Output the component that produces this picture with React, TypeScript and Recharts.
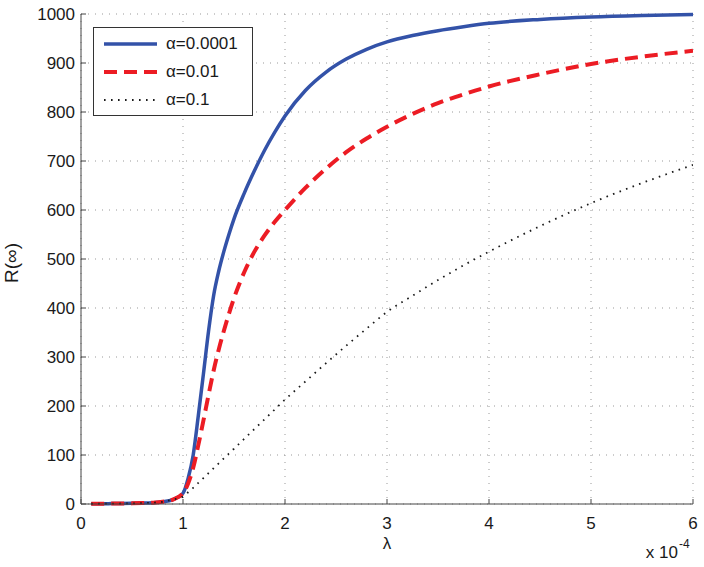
import { CartesianGrid, Label, Legend, Line, LineChart, XAxis, YAxis } from 'recharts';

const font = '"Liberation Sans", Arial, Helvetica, sans-serif';

// lambda in units of 1e-4
const lambda = [
  0.1, 0.2, 0.3, 0.4, 0.5, 0.6, 0.7, 0.8, 0.9, 1.0, 1.05, 1.1, 1.15, 1.2, 1.25, 1.3, 1.35, 1.4, 1.45, 1.5,
  1.6, 1.7, 1.8, 1.9, 2.0, 2.2, 2.4, 2.6, 2.8, 3.0, 3.25, 3.5, 3.75, 4.0, 4.5, 5.0, 5.5, 6.0,
];
const rAlpha0001 = [
  0.5, 0.6, 0.8, 1.0, 1.3, 1.8, 2.6, 4.5, 9, 22, 52, 100, 180, 265, 352, 425, 475, 515, 550, 582,
  634, 680, 722, 759, 792, 844, 881, 908, 928, 943, 956, 966, 974, 981, 989, 994, 997, 999,
];
const rAlpha001 = [
  0.5, 0.6, 0.8, 1.0, 1.3, 1.8, 2.6, 4.5, 9, 22, 42, 74, 120, 170, 222, 272, 315, 353, 388, 420,
  473, 515, 548, 576, 600, 645, 684, 718, 746, 770, 796, 818, 836, 852, 877, 898, 913, 925,
];
const rAlpha01 = [
  0.5, 0.6, 0.8, 1.0, 1.3, 1.8, 2.6, 4.5, 9, 15, 24, 33, 43, 53, 63, 73, 83, 93, 103, 113,
  133, 153, 173, 193, 213, 250, 287, 323, 358, 392, 425, 457, 487, 515, 567, 614, 655, 692,
];

const xTicks = [0, 1, 2, 3, 4, 5, 6];
const yTicks = [0, 100, 200, 300, 400, 500, 600, 700, 800, 900, 1000];

const series = [
  { key: 'a0001', name: 'α=0.0001', color: '#3352a8', width: 3.5, dash: undefined as string | undefined },
  { key: 'a001', name: 'α=0.01', color: '#ec1c24', width: 4, dash: '13 7' },
  { key: 'a01', name: 'α=0.1', color: '#1a1a1a', width: 1.8, dash: '1.6 5.4' },
];

const data = lambda.map((x, i) => ({ x, a0001: rAlpha0001[i], a001: rAlpha001[i], a01: rAlpha01[i] }));

const tickStyle = { fill: '#1a1a1a', fontSize: 17, fontFamily: font };

function XNote(props: any) {
  const { x, y, width } = props.viewBox;
  return (
    <g fontFamily={font} fill="#1a1a1a">
      <text x={x + width / 2} y={y + 45} fontSize={17} textAnchor="middle">λ</text>
      <text x={x + width - 15} y={y + 54} fontSize={17} textAnchor="end">x 10</text>
      <text x={x + width - 14} y={y + 44} fontSize={12}>-4</text>
    </g>
  );
}

function YNote(props: any) {
  const { y, height } = props.viewBox;
  const cy = y + height / 2 + 4;
  return (
    <text
      x={11} y={cy} dy="0.355em" transform={`rotate(-90, 11, ${cy})`}
      fontFamily={font} fontSize={19} fill="#1a1a1a" textAnchor="middle"
    >
      R(∞)
    </text>
  );
}

function LegendBox() {
  return (
    <div
      style={{
        boxSizing: 'border-box', width: 160, height: 89, border: '1px solid #333', background: '#fff',
        fontFamily: font, fontSize: 17, color: '#1a1a1a', paddingTop: 2,
      }}
    >
      {series.map((s) => (
        <div key={s.key} style={{ display: 'flex', alignItems: 'center', height: 28 }}>
          <svg width={53} height={10} style={{ marginLeft: 10 }}>
            <line x1={0} y1={5} x2={53} y2={5} stroke={s.color} strokeWidth={s.width} strokeDasharray={s.dash} />
          </svg>
          <span style={{ marginLeft: 9 }}>{s.name}</span>
        </div>
      ))}
    </div>
  );
}

export default function App() {
  return (
    <div style={{ position: 'absolute', left: 0, top: 0, width: 704, height: 567 }}>
      <LineChart width={704} height={567} data={data} margin={{ top: 14, right: 11, bottom: 8, left: 0 }}>
        <CartesianGrid stroke="#999" strokeDasharray="1 6" />
        <XAxis
          dataKey="x" type="number" domain={[0, 6]} ticks={xTicks} interval={0} allowDataOverflow
          height={55} stroke="#444" tickSize={-5} tickMargin={18} tick={tickStyle}
        >
          <Label content={XNote} />
        </XAxis>
        <XAxis
          xAxisId="top" orientation="top" dataKey="x" type="number" domain={[0, 6]} ticks={xTicks}
          interval={0} height={0} stroke="#444" tickSize={-5} tick={false}
        />
        <YAxis
          type="number" domain={[0, 1000]} ticks={yTicks} interval={0} width={81}
          stroke="#444" tickSize={-5} tickMargin={11} tick={tickStyle}
        >
          <Label content={YNote} />
        </YAxis>
        <YAxis
          yAxisId="right" orientation="right" type="number" domain={[0, 1000]} ticks={yTicks}
          interval={0} width={0} stroke="#444" tickSize={-5} tick={false}
        />
        <Legend
          layout="vertical" align="center" verticalAlign="middle"
          wrapperStyle={{ left: 93, top: 27, width: 160, height: 89 }}
          content={LegendBox}
        />
        {series.map((s) => (
          <Line
            key={s.key} dataKey={s.key} name={s.name} type="monotone" stroke={s.color} strokeWidth={s.width}
            strokeDasharray={s.dash} dot={false} activeDot={false} isAnimationActive={false}
          />
        ))}
      </LineChart>
    </div>
  );
}
